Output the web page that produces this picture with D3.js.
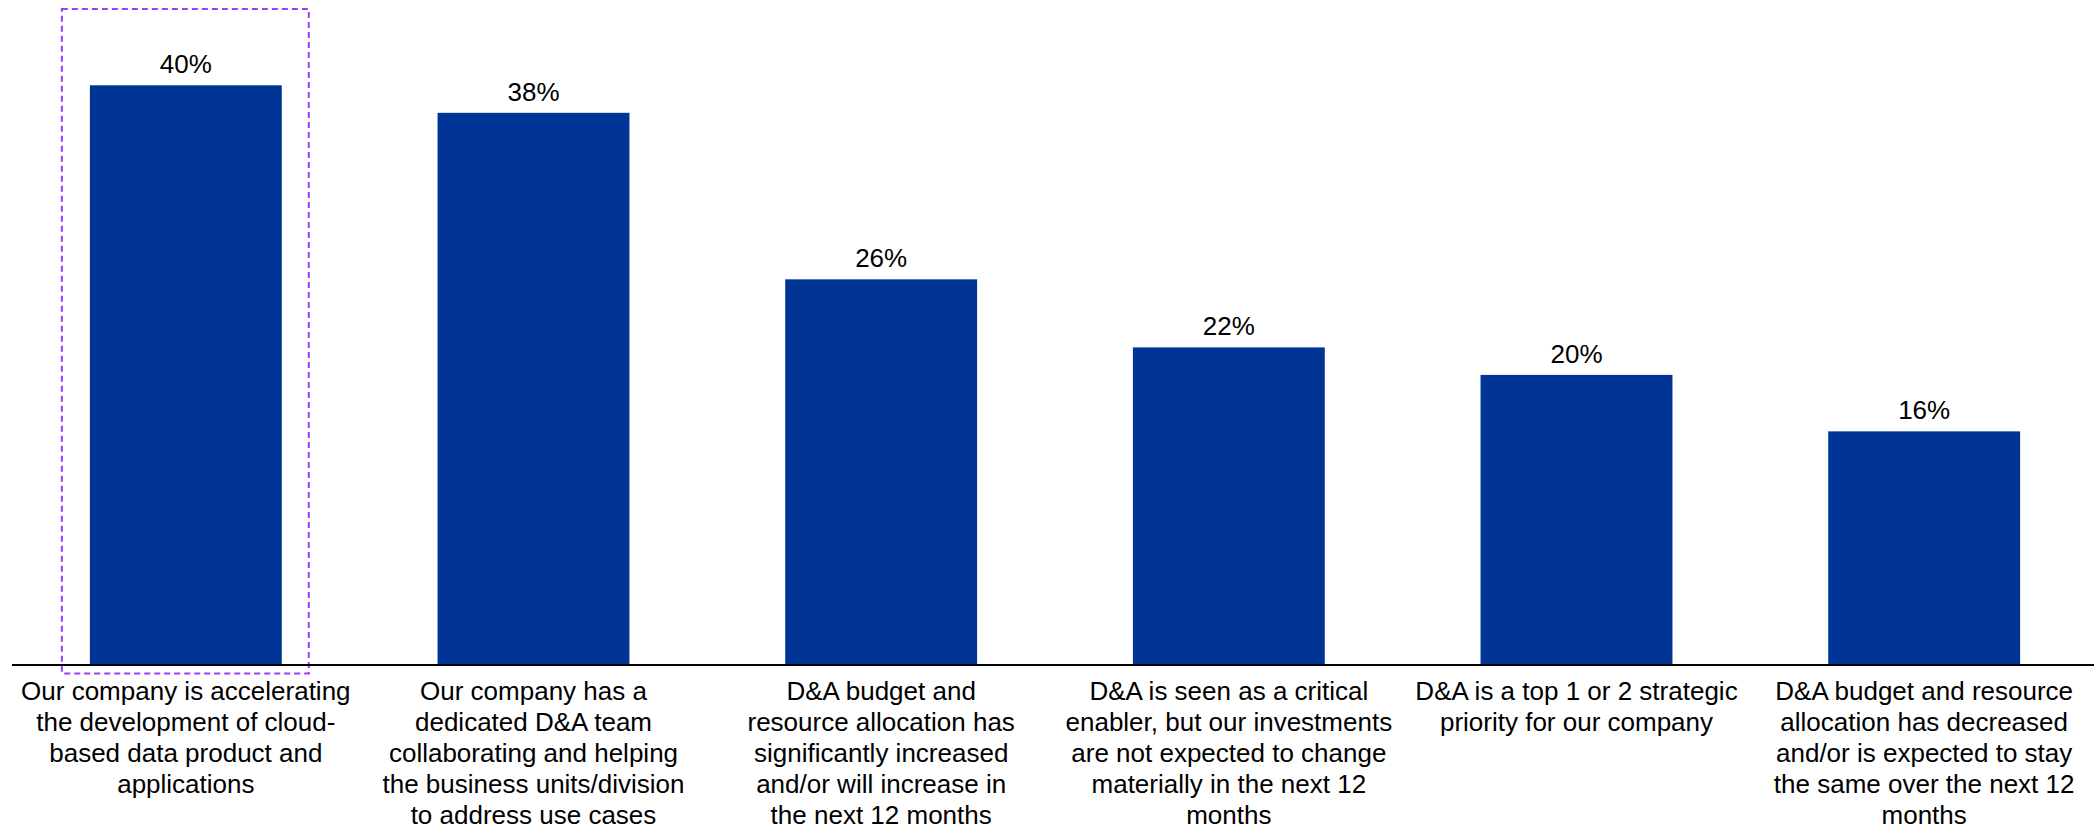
<!DOCTYPE html>
<html>
<head>
<meta charset="utf-8">
<script src="https://cdn.jsdelivr.net/npm/d3@7"></script>
<style>
  html, body { margin: 0; padding: 0; background: #fff; }
  text { font-family: "Liberation Sans", Arial, sans-serif; fill: #000; }
</style>
</head>
<body>
<div id="chart"></div>
<script>
// category labels, already broken into lines as in the original
const categories = [
  ["Our company is accelerating", "the development of cloud-", "based data product and", "applications"],
  ["Our company has a", "dedicated D&A team", "collaborating and helping", "the business units/division", "to address use cases"],
  ["D&A budget and", "resource allocation has", "significantly increased", "and/or will increase in", "the next 12 months"],
  ["D&A is seen as a critical", "enabler, but our investments", "are not expected to change", "materially in the next 12", "months"],
  ["D&A is a top 1 or 2 strategic", "priority for our company"],
  ["D&A budget and resource", "allocation has decreased", "and/or is expected to stay", "the same over the next 12", "months"]
];
// bar heights as drawn (unrounded), and the labels printed above them
const values = [40, 38.1, 26.6, 21.9, 20, 16.1];
const valueLabels = ["40%", "38%", "26%", "22%", "20%", "16%"];
const highlighted = [0];

const width = 2094, height = 830;
const baseline = 664.5;

const svg = d3.select("#chart")
  .append("svg")
  .attr("width", width)
  .attr("height", height);

const x = d3.scaleBand()
  .domain(d3.range(values.length))
  .range([12, 2098])
  .paddingInner(0.448)
  .paddingOuter(0.224);

const y = d3.scaleLinear()
  .domain([0, 40])
  .range([baseline, 85.3]);

// dashed highlight box round the first category
svg.selectAll("rect.hl")
  .data(highlighted)
  .enter()
  .append("rect")
  .attr("class", "hl")
  .attr("x", d => x(d) - 28)
  .attr("y", 9)
  .attr("width", x.bandwidth() + 55)
  .attr("height", 664.5)
  .attr("fill", "none")
  .attr("stroke", "#9b3dfa")
  .attr("stroke-width", 2)
  .attr("stroke-dasharray", "6,4");

svg.selectAll("rect.bar")
  .data(values)
  .enter()
  .append("rect")
  .attr("class", "bar")
  .attr("x", (d, i) => x(i))
  .attr("y", d => y(d))
  .attr("width", x.bandwidth())
  .attr("height", d => baseline - y(d))
  .attr("fill", "#003596");

// value labels
svg.selectAll("text.val")
  .data(values)
  .enter()
  .append("text")
  .attr("class", "val")
  .attr("x", (d, i) => x(i) + x.bandwidth() / 2)
  .attr("y", d => y(d) - 12)
  .attr("text-anchor", "middle")
  .style("font-size", "26px")
  .text((d, i) => valueLabels[i]);

// axis line
svg.append("line")
  .attr("x1", 12)
  .attr("x2", width)
  .attr("y1", baseline + 0.5)
  .attr("y2", baseline + 0.5)
  .attr("stroke", "#000")
  .attr("stroke-width", 2);

// category labels
const lab = svg.selectAll("text.cat")
  .data(categories)
  .enter()
  .append("text")
  .attr("class", "cat")
  .attr("text-anchor", "middle")
  .style("font-size", "26px");

lab.selectAll("tspan")
  .data((d, i) => d.map(line => ({ line, i })))
  .enter()
  .append("tspan")
  .attr("x", d => x(d.i) + x.bandwidth() / 2)
  .attr("y", (d, j) => 700 + j * 31)
  .text(d => d.line);
</script>
</body>
</html>
